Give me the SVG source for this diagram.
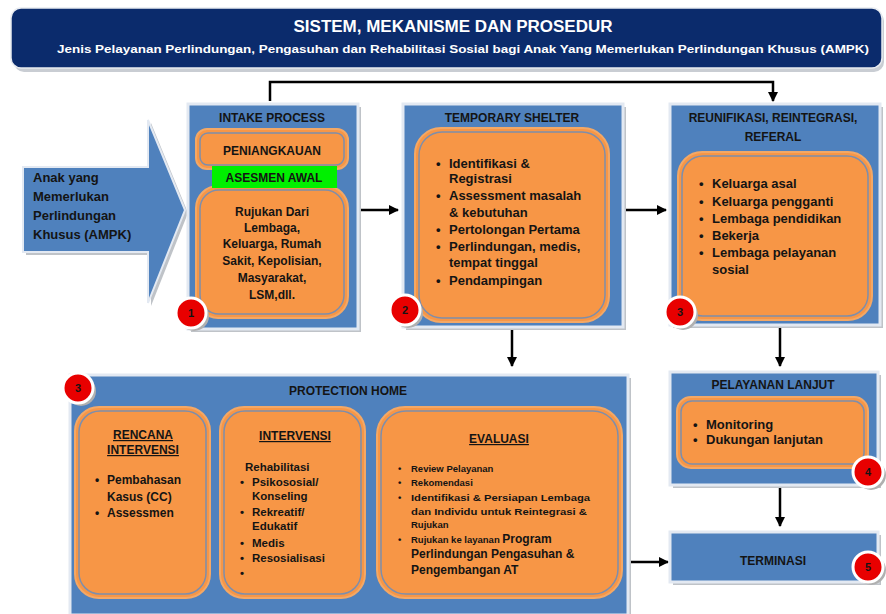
<svg xmlns="http://www.w3.org/2000/svg" width="886" height="614" viewBox="0 0 886 614">
<defs>
<marker id="ah" viewBox="0 0 10 10" refX="9" refY="5" markerWidth="4" markerHeight="4" orient="auto" markerUnits="strokeWidth">
<path d="M0,0 L10,5 L0,10 z" fill="#000"/>
</marker>
<style>
text{font-family:"Liberation Sans","DejaVu Sans",sans-serif;font-weight:bold;fill:#141414}
.hd{fill:#fff}
.blue{fill:#4F81BD;stroke:#E3E9F2;stroke-width:3}
.shadow{fill:#BFC3C8}
.or{fill:#F79646;stroke:#F3A866;stroke-width:2}
.in{fill:none;stroke:#7E8EAB;stroke-width:1.5}
.num{fill:#E80000;stroke:#fff;stroke-width:3}
.nshadow{fill:#B0B0B0}
.conn{fill:none;stroke:#000;stroke-width:2.5}
.t12{font-size:12px}
.t13{font-size:13px}
.c{text-anchor:middle}
.u{text-decoration:underline}
</style>
</defs>
<rect width="886" height="614" fill="#fff"/>

<g id="header">
<rect x="14" y="11" width="870" height="61" rx="10" fill="#C9CDD3"/>
<rect x="11" y="8" width="871" height="60" rx="10" fill="#0B2B6C" stroke="#E8EBF0" stroke-width="1.5"/>
<text class="hd c" x="453" y="32" font-size="16" textLength="319" lengthAdjust="spacingAndGlyphs">SISTEM, MEKANISME DAN PROSEDUR</text>
<text class="hd c" x="463" y="53" font-size="11.5" textLength="812" lengthAdjust="spacingAndGlyphs">Jenis Pelayanan Perlindungan, Pengasuhan dan Rehabilitasi Sosial  bagi Anak Yang Memerlukan Perlindungan Khusus (AMPK)</text>
</g>

<g id="ampk">
<polygon points="26,170 151,170 151,123 188,213 151,306 151,255 26,255" class="shadow"/>
<polygon points="23,167 148,167 148,120 185,210 148,303 148,252 23,252" fill="#4F81BD" stroke="#E3E9F2" stroke-width="2"/>
<text class="t13" x="33" y="182">Anak yang</text>
<text class="t13" x="33" y="201">Memerlukan</text>
<text class="t13" x="33" y="220">Perlindungan</text>
<text class="t13" x="33" y="239">Khusus (AMPK)</text>
</g>

<g id="connectors">
<polyline class="conn" points="270,101 270,82 773,82 773,101" marker-end="url(#ah)"/>
<line class="conn" x1="359" y1="210" x2="398" y2="210" marker-end="url(#ah)"/>
<line class="conn" x1="625" y1="210" x2="666" y2="210" marker-end="url(#ah)"/>
<line class="conn" x1="512" y1="328" x2="512" y2="366" marker-end="url(#ah)"/>
<line class="conn" x1="780" y1="326" x2="780" y2="366" marker-end="url(#ah)"/>
<line class="conn" x1="780" y1="486" x2="780" y2="526" marker-end="url(#ah)"/>
<line class="conn" x1="630" y1="562" x2="668" y2="562" marker-end="url(#ah)"/>
</g>

<g id="intake">
<rect x="191" y="107" width="170" height="225" class="shadow"/>
<rect x="188" y="104" width="170" height="225" class="blue"/>
<text class="t12 c" x="272" y="122">INTAKE PROCESS</text>
<rect x="196" y="129" width="152" height="40" rx="11" class="or"/>
<rect x="200" y="133" width="144" height="32" rx="8" class="in"/>
<text class="t12 c" x="272" y="155">PENIANGKAUAN</text>
<rect x="196" y="186" width="152" height="132" rx="22" class="or"/>
<rect x="200" y="190" width="144" height="124" rx="19" class="in"/>
<rect x="212" y="166" width="125" height="22" fill="#00F000"/>
<text class="t12 c" x="274" y="182">ASESMEN AWAL</text>
<text class="t12 c" x="272" y="216">Rujukan Dari</text>
<text class="t12 c" x="272" y="232">Lembaga,</text>
<text class="t12 c" x="272" y="248">Keluarga, Rumah</text>
<text class="t12 c" x="272" y="265">Sakit, Kepolisian,</text>
<text class="t12 c" x="272" y="282">Masyarakat,</text>
<text class="t12 c" x="272" y="299">LSM,dll.</text>
<circle cx="194" cy="316" r="15" class="nshadow"/>
<circle cx="191" cy="313" r="15" class="num"/>
<text class="c" x="191" y="317" font-size="11">1</text>
</g>

<g id="shelter">
<rect x="406" y="107" width="220" height="223" class="shadow"/>
<rect x="403" y="104" width="220" height="223" class="blue"/>
<text class="t12 c" x="512" y="122">TEMPORARY SHELTER</text>
<rect x="415" y="128" width="194" height="194" rx="26" class="or"/>
<rect x="419" y="132" width="186" height="186" rx="23" class="in"/>
<g class="t13">
<text x="436" y="168">•</text><text x="449" y="168">Identifikasi &amp;</text>
<text x="449" y="183">Registrasi</text>
<text x="436" y="200">•</text><text x="449" y="200">Assessment masalah</text>
<text x="449" y="217">&amp; kebutuhan</text>
<text x="436" y="234">•</text><text x="449" y="234">Pertolongan Pertama</text>
<text x="436" y="251">•</text><text x="449" y="251">Perlindungan, medis,</text>
<text x="449" y="267">tempat tinggal</text>
<text x="436" y="285">•</text><text x="449" y="285">Pendampingan</text>
</g>
<circle cx="408" cy="313" r="15" class="nshadow"/>
<circle cx="405" cy="310" r="15" class="num"/>
<text class="c" x="405" y="314" font-size="11">2</text>
</g>

<g id="reunifikasi">
<rect x="673" y="107" width="210" height="221" class="shadow"/>
<rect x="670" y="104" width="210" height="221" class="blue"/>
<text class="t12 c" x="773" y="122">REUNIFIKASI, REINTEGRASI,</text>
<text class="t12 c" x="773" y="141">REFERAL</text>
<rect x="678" y="152" width="194" height="168" rx="24" class="or"/>
<rect x="682" y="156" width="186" height="160" rx="21" class="in"/>
<g class="t13">
<text x="699" y="188">•</text><text x="712" y="188">Keluarga asal</text>
<text x="699" y="206">•</text><text x="712" y="206">Keluarga pengganti</text>
<text x="699" y="223">•</text><text x="712" y="223">Lembaga pendidikan</text>
<text x="699" y="240">•</text><text x="712" y="240">Bekerja</text>
<text x="699" y="257">•</text><text x="712" y="257">Lembaga pelayanan</text>
<text x="712" y="274">sosial</text>
</g>
<circle cx="683" cy="315" r="15" class="nshadow"/>
<circle cx="680" cy="312" r="15" class="num"/>
<text class="c" x="680" y="316" font-size="11">3</text>
</g>

<g id="protection">
<rect x="73" y="378" width="558" height="240" class="shadow"/>
<rect x="70" y="375" width="558" height="240" class="blue"/>
<text class="t12 c" x="348" y="395">PROTECTION HOME</text>

<rect x="75" y="407" width="135" height="191" rx="24" class="or"/>
<rect x="79" y="411" width="127" height="183" rx="21" class="in"/>
<text class="t12 c u" x="143" y="439">RENCANA</text>
<text class="t12 c u" x="143" y="454">INTERVENSI</text>
<text class="t12" x="95" y="484">•</text><text class="t12" x="107" y="484">Pembahasan</text>
<text class="t12" x="107" y="501">Kasus (CC)</text>
<text class="t12" x="95" y="517">•</text><text class="t12" x="107" y="517">Assessmen</text>

<rect x="220" y="407" width="145" height="191" rx="24" class="or"/>
<rect x="224" y="411" width="137" height="183" rx="21" class="in"/>
<text class="t12 c u" x="295" y="440">INTERVENSI</text>
<g font-size="11.5">
<text x="245" y="471">Rehabilitasi</text>
<text x="240" y="486">•</text><text x="252" y="486">Psikososial/</text>
<text x="252" y="500">Konseling</text>
<text x="240" y="516">•</text><text x="252" y="516">Rekreatif/</text>
<text x="252" y="530">Edukatif</text>
<text x="240" y="547">•</text><text x="252" y="547">Medis</text>
<text x="240" y="562">•</text><text x="252" y="562">Resosialisasi</text>
<text x="240" y="577">•</text>
</g>

<rect x="377" y="407" width="245" height="191" rx="28" class="or"/>
<rect x="381" y="411" width="237" height="183" rx="25" class="in"/>
<text class="t12 c u" x="499" y="443">EVALUASI</text>
<g font-size="9.5">
<text x="398" y="472">•</text><text x="411" y="472">Review Pelayanan</text>
<text x="398" y="486">•</text><text x="411" y="486">Rekomendasi</text>
<text x="398" y="501">•</text><text x="411" y="501" textLength="179" lengthAdjust="spacingAndGlyphs">Identifikasi &amp; Persiapan Lembaga</text>
<text x="411" y="515" textLength="176" lengthAdjust="spacingAndGlyphs">dan Individu untuk Reintegrasi &amp;</text>
<text x="411" y="528">Rujukan</text>
<text x="398" y="543">•</text><text x="411" y="543">Rujukan ke layanan <tspan font-size="12">Program</tspan></text>
</g>
<text class="t12" x="411" y="558">Perlindungan Pengasuhan &amp;</text>
<text class="t12" x="411" y="574">Pengembangan AT</text>

<circle cx="81" cy="391" r="15" class="nshadow"/>
<circle cx="78" cy="388" r="15" class="num"/>
<text class="c" x="78" y="392" font-size="11">3</text>
</g>

<g id="pelayanan-lanjut">
<rect x="673" y="375" width="208" height="113" class="shadow"/>
<rect x="670" y="372" width="208" height="113" class="blue"/>
<text class="t12 c" x="773" y="389">PELAYANAN LANJUT</text>
<rect x="677" y="397" width="191" height="71" rx="14" class="or"/>
<rect x="681" y="401" width="183" height="63" rx="11" class="in"/>
<text class="t13" x="693" y="429">•</text><text class="t13" x="706" y="429">Monitoring</text>
<text class="t13" x="693" y="444">•</text><text class="t13" x="706" y="444">Dukungan lanjutan</text>
<circle cx="871" cy="475" r="15" class="nshadow"/>
<circle cx="868" cy="472" r="15" class="num"/>
<text class="c" x="868" y="476" font-size="11">4</text>
</g>

<g id="terminasi">
<rect x="673" y="535" width="208" height="50" class="shadow"/>
<rect x="670" y="532" width="208" height="50" class="blue"/>
<text class="t12 c" x="773" y="565">TERMINASI</text>
<circle cx="871" cy="570" r="15" class="nshadow"/>
<circle cx="868" cy="567" r="15" class="num"/>
<text class="c" x="868" y="571" font-size="11">5</text>
</g>
</svg>
